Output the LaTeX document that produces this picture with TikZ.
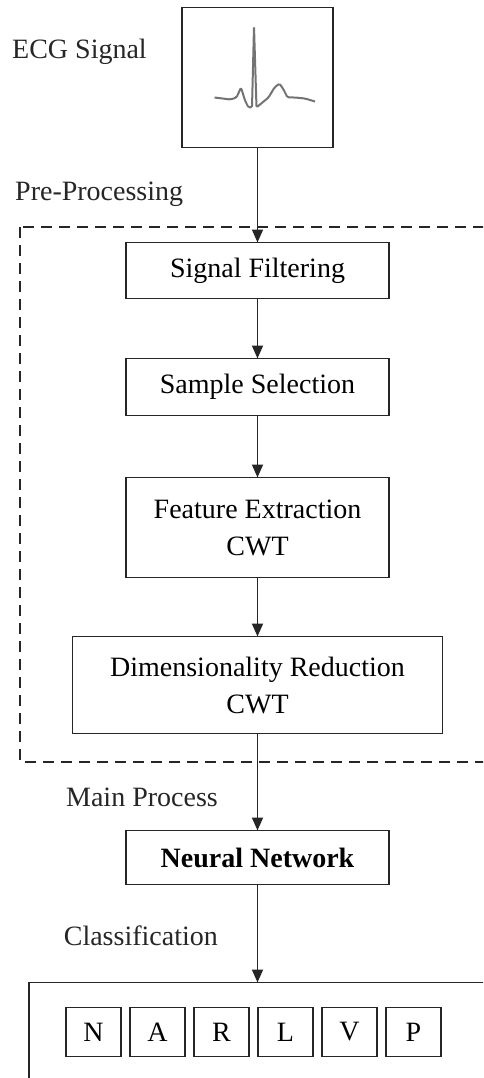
\documentclass[tikz,border=0pt]{standalone}
\usepackage{fontspec}
\setmainfont{Liberation Serif}
\usepackage{tikz}
\usetikzlibrary{positioning, arrows.meta}
\tikzstyle{process} = [rectangle, minimum width=263pt, minimum height=56pt, text centered, align=center, draw=black!85, line width=1.8pt, outer sep=0pt]
\tikzstyle{classbox} = [rectangle, minimum width=55pt, minimum height=49pt, text centered, draw=black!85, line width=1.5pt, outer sep=0pt]
\tikzstyle{caption} = [anchor=west, inner sep=0pt, text=black!85]
\tikzstyle{flow} = [-{Triangle[length=13pt,width=11pt]}, line width=1.8pt, draw=black!85]
\tikzstyle{preframe} = [draw=black!85, line width=1.5pt, dash pattern=on 11pt off 7pt]
\tikzstyle{ecgwave} = [draw=black!55, line width=2pt, line join=round, rounded corners=1.5pt]

\begin{document}
\begin{tikzpicture}[x=1pt, y=-1pt, font=\fontsize{28}{37}\selectfont]
		\useasboundingbox (0,0) rectangle (483,1078);
		\clip (0,0) rectangle (483,1078);
		\node (ECG)[process, minimum width=151pt, minimum height=140pt] at (257.5,77.5){};
		\draw [ecgwave, shift={(ECG.center)}] (-43,20) -- (-27,22) -- (-21,20) -- (-16.5,10) -- (-12.5,23) -- (-9,30) -- (-5.5,30) -- (-3.5,-51) -- (-1,30) -- (2.5,27) -- (11,20) -- (17,10) -- (22,6) -- (26,12) -- (30,20) -- (37.5,20) -- (47.5,21) -- (57.5,24);
		\node (SF)[process, below=95pt of ECG]{Signal Filtering};
		\node (SS)[process, below=60pt of SF, minimum height=57pt]{Sample Selection};
		\node (FE)[process, below=62pt of SS, minimum height=100pt]{Feature Extraction\\CWT};
		\node (DR)[process, below=59pt of FE, minimum width=370pt, minimum height=97pt]{Dimensionality Reduction\\CWT};
		\node (NN)[process, below=97pt of DR, minimum height=54pt]{\textbf{Neural Network}};
		\node (Classes)[process, below=98pt of NN, minimum width=457pt, minimum height=140pt]{};
		\node (N)[classbox, below right=25pt and 37pt of Classes.north west]{N};
		\node (A)[classbox, right=9pt of N]{A};
		\node (R)[classbox, right=9pt of A]{R};
		\node (L)[classbox, right=9pt of R]{L};
		\node (V)[classbox, right=9pt of L]{V};
		\node (P)[classbox, right=9pt of V]{P};
		\draw [preframe] (20,227) rectangle (500,762);
		\node (ECGLabel)[caption] at (12,52){ECG Signal};
		\node (PreLabel)[caption] at (15,194){Pre-Processing};
		\node (MainLabel)[caption, anchor=east] at (218,797){Main Process};
		\node (ClassLabel)[caption, anchor=east] at (218,936){Classification};
		\draw [flow] (ECG) -- (SF);
		\draw [flow] (SF) -- (SS);
		\draw [flow] (SS) -- (FE);
		\draw [flow] (FE) -- (DR);
		\draw [flow] (DR) -- (NN);
		\draw [flow] (NN) -- (Classes);
	\end{tikzpicture}
\end{document}
